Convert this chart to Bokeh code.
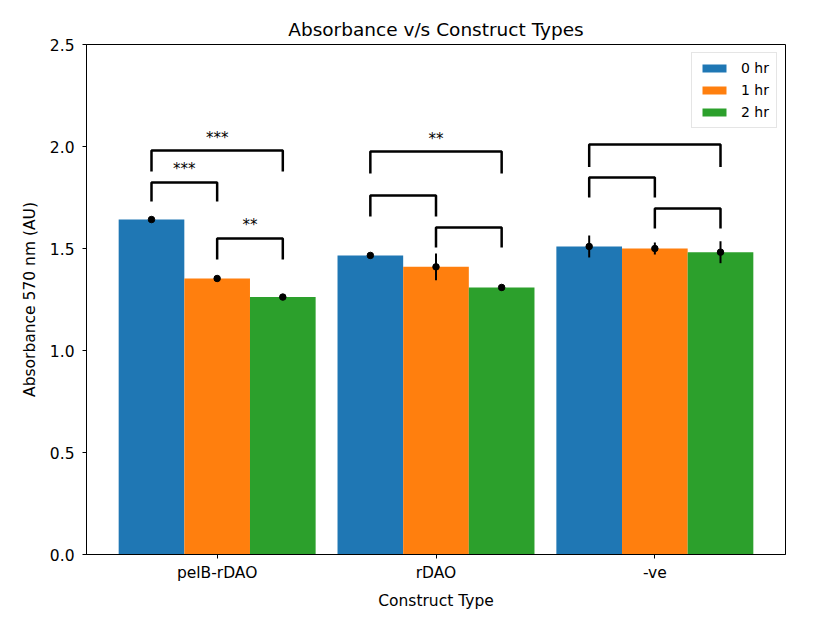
import numpy as np
from bokeh.plotting import figure
from bokeh.models import FixedTicker, Legend, LegendItem, ColumnDataSource, NumeralTickFormatter
from bokeh.core.properties import value
from bokeh.embed import file_html
from bokeh.resources import INLINE

categories = ["pelB-rDAO", "rDAO", "-ve"]
series = ["0 hr", "1 hr", "2 hr"]
colors = ["#1f77b4", "#ff7f0e", "#2ca02c"]
vals_0hr = [1.642, 1.466, 1.510]
vals_1hr = [1.353, 1.410, 1.500]
vals_2hr = [1.262, 1.309, 1.482]
err_0hr = [0.005, 0.008, 0.054]
err_1hr = [0.006, 0.066, 0.030]
err_2hr = [0.008, 0.010, 0.054]

# significance brackets: category index, series i, series j, top y, leg bottom y, label
br_cat = [0, 0, 0, 1, 1, 1, 2, 2, 2]
br_i = [0, 0, 1, 0, 0, 1, 0, 0, 1]
br_j = [1, 2, 2, 1, 2, 2, 1, 2, 2]
br_top = [1.824, 1.980, 1.549, 1.760, 1.975, 1.603, 1.848, 2.010, 1.696]
br_bottom = [1.730, 1.877, 1.446, 1.657, 1.868, 1.505, 1.750, 1.900, 1.598]
br_label = ["***", "***", "**", "", "**", "", "", "", ""]

FONT = "DejaVu Sans"
width = 0.3
offsets = [-width, 0.0, width]
xs = np.arange(len(categories), dtype=float)

p = figure(width=812, height=612, output_backend="svg", toolbar_location=None,
           x_range=(-0.597, 2.597), y_range=(0, 2.5),
           min_border_left=86, min_border_right=27, min_border_top=44, min_border_bottom=58,
           title="Absorbance v/s Construct Types")
p.title.align = "center"
p.title.text_font = FONT
p.title.text_font_size = "18.5px"
p.title.text_font_style = "normal"
p.title.text_color = "#000000"

renderers = []
for k, (vals, errs) in enumerate([(vals_0hr, err_0hr), (vals_1hr, err_1hr), (vals_2hr, err_2hr)]):
    bx = xs + offsets[k]
    v = np.array(vals)
    e = np.array(errs)
    src = ColumnDataSource(dict(x=bx, top=v, lo=v - e, hi=v + e))
    r = p.vbar(x="x", top="top", width=width, bottom=0, color=colors[k], source=src, line_color=None)
    renderers.append(r)
    p.segment(x0="x", y0="lo", x1="x", y1="hi", source=src, line_color="black", line_width=2)
    p.scatter(x="x", y="top", source=src, size=6.5, color="black")

# brackets
bx_list, by_list, tx, ty, tl = [], [], [], [], []
for c, i, j, t, b, lab in zip(br_cat, br_i, br_j, br_top, br_bottom, br_label):
    x0 = xs[c] + offsets[i]
    x1 = xs[c] + offsets[j]
    bx_list.append([x0, x0, x1, x1])
    by_list.append([b, t, t, b])
    if lab:
        tx.append((x0 + x1) / 2)
        ty.append(t + 0.02)
        tl.append(lab)
p.multi_line(xs=bx_list, ys=by_list, line_color="black", line_width=2.5)
p.text(x=tx, y=ty, text=tl, text_align="center", text_baseline="bottom",
       text_font=value(FONT), text_font_size="15px", text_color="black")

p.xgrid.visible = False
p.ygrid.visible = False
p.xaxis.ticker = FixedTicker(ticks=list(xs))
overrides = {float(x): c for x, c in zip(xs, categories)}
overrides.update({int(x): c for x, c in zip(xs, categories)})
p.xaxis.major_label_overrides = overrides
p.yaxis.ticker = FixedTicker(ticks=[0, 0.5, 1.0, 1.5, 2.0, 2.5])
p.yaxis.formatter = NumeralTickFormatter(format="0.0")
p.xaxis.axis_label = "Construct Type"
p.yaxis.axis_label = "Absorbance 570 nm (AU)"
for ax in (p.xaxis[0], p.yaxis[0]):
    ax.axis_label_text_font = FONT
    ax.axis_label_text_font_size = "15.5px"
    ax.axis_label_text_font_style = "normal"
    ax.major_label_text_font = FONT
    ax.major_label_text_font_size = "15.5px"
    ax.major_tick_out = 4
    ax.major_tick_in = 0
    ax.minor_tick_out = 0
    ax.minor_tick_in = 0
    ax.axis_line_color = "black"
    ax.major_tick_line_color = "black"
    ax.major_label_text_color = "black"
    ax.axis_label_text_color = "black"
p.xaxis.major_label_standoff = 5
p.yaxis.major_label_standoff = 8
p.xaxis.axis_label_standoff = 7
p.yaxis.axis_label_standoff = 8
p.outline_line_color = "black"
p.outline_line_alpha = 1.0

legend = Legend(items=[LegendItem(label=s, renderers=[r]) for s, r in zip(series, renderers)],
                location="top_right", label_text_font=FONT, label_text_font_size="14px",
                label_text_color="black",
                glyph_width=30, glyph_height=10, spacing=6, padding=7, margin=8,
                border_line_color="#cccccc", label_standoff=12)
p.add_layout(legend)

open("out.html", "w").write(file_html(p, INLINE))
